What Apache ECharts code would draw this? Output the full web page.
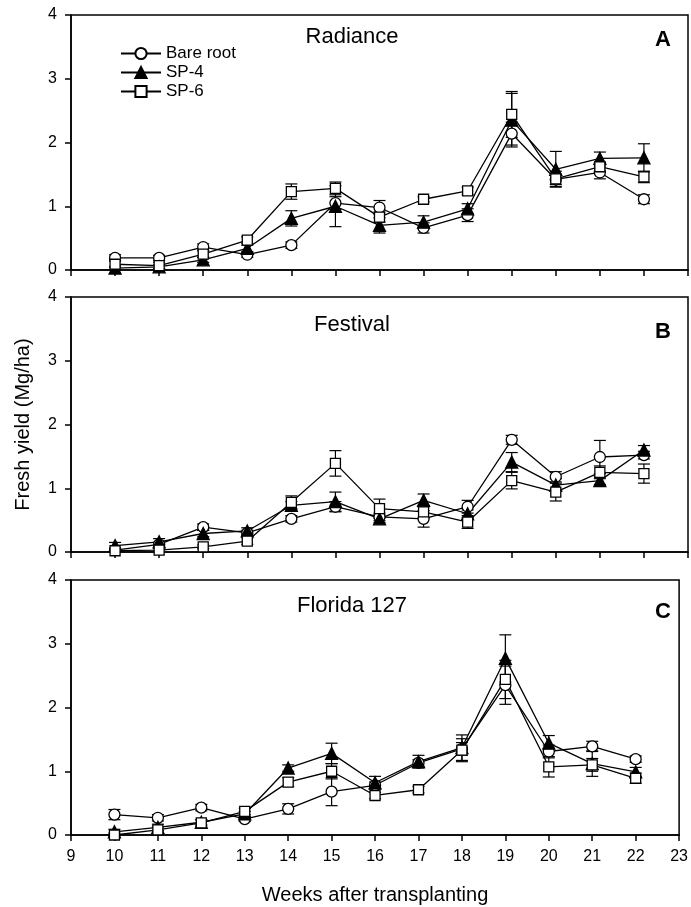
<!DOCTYPE html>
<html>
<head>
<meta charset="utf-8">
<script src="https://cdn.jsdelivr.net/npm/echarts@6/dist/echarts.min.js"></script>
<style>
  html, body { margin: 0; padding: 0; background: #fff; }
  #chart { width: 691px; height: 907px; }
</style>
</head>
<body>
<div id="chart"></div>
<script>
const weeks = [10, 11, 12, 13, 14, 15, 16, 17, 18, 19, 20, 21, 22]
const seriesNames = ['Bare root', 'SP-4', 'SP-6']
const panelTitles = ['Radiance', 'Festival', 'Florida 127']
const panelLetters = ['A', 'B', 'C']
const yTicks = [0, 1, 2, 3, 4]

// Radiance (A)
const bareA = [0.19, 0.19, 0.36, 0.24, 0.39, 1.05, 0.98, 0.66, 0.86, 2.14, 1.42, 1.53, 1.11]
const sp4A = [0.03, 0.05, 0.16, 0.34, 0.81, 1.0, 0.7, 0.75, 0.96, 2.35, 1.58, 1.75, 1.76]
const sp6A = [0.09, 0.07, 0.25, 0.47, 1.23, 1.28, 0.83, 1.11, 1.24, 2.44, 1.43, 1.62, 1.46]
const errBareA = [0.05, 0.04, 0.05, 0.04, 0.05, 0.1, 0.11, 0.08, 0.1, 0.18, 0.08, 0.1, 0.07]
const errSp4A = [0.03, 0.03, 0.04, 0.05, 0.12, 0.32, 0.12, 0.1, 0.08, 0.42, 0.28, 0.1, 0.22]
const errSp6A = [0.05, 0.05, 0.05, 0.05, 0.12, 0.1, 0.08, 0.04, 0.06, 0.36, 0.12, 0.07, 0.09]

// Festival (B)
const bareB = [0.03, 0.12, 0.39, 0.3, 0.52, 0.71, 0.55, 0.52, 0.71, 1.76, 1.18, 1.49, 1.52]
const sp4B = [0.1, 0.16, 0.29, 0.33, 0.73, 0.79, 0.52, 0.81, 0.6, 1.41, 1.05, 1.12, 1.6]
const sp6B = [0.02, 0.03, 0.08, 0.17, 0.78, 1.39, 0.68, 0.63, 0.47, 1.12, 0.94, 1.25, 1.23]
const errBareB = [0.03, 0.03, 0.05, 0.04, 0.05, 0.08, 0.06, 0.13, 0.1, 0.07, 0.08, 0.26, 0.06]
const errSp4B = [0.05, 0.05, 0.05, 0.05, 0.06, 0.15, 0.06, 0.1, 0.06, 0.15, 0.1, 0.06, 0.07]
const errSp6B = [0.02, 0.03, 0.03, 0.05, 0.1, 0.2, 0.15, 0.1, 0.1, 0.13, 0.14, 0.1, 0.15]

// Florida 127 (C)
const bareC = [0.32, 0.27, 0.43, 0.25, 0.41, 0.68, 0.78, 1.13, 1.35, 2.35, 1.31, 1.39, 1.19]
const sp4C = [0.05, 0.12, 0.2, 0.33, 1.05, 1.28, 0.82, 1.15, 1.37, 2.77, 1.44, 1.12, 0.99]
const sp6C = [0.0, 0.08, 0.19, 0.37, 0.83, 1.0, 0.62, 0.71, 1.33, 2.44, 1.07, 1.1, 0.89]
const errBareC = [0.08, 0.05, 0.05, 0.04, 0.08, 0.22, 0.05, 0.05, 0.1, 0.3, 0.1, 0.08, 0.05]
const errSp4C = [0.04, 0.05, 0.04, 0.04, 0.05, 0.16, 0.1, 0.1, 0.2, 0.37, 0.12, 0.2, 0.07]
const errSp6C = [0.03, 0.05, 0.05, 0.05, 0.07, 0.12, 0.05, 0.05, 0.18, 0.3, 0.16, 0.1, 0.08]

const panels = [
  { vals: [bareA, sp4A, sp6A], errs: [errBareA, errSp4A, errSp6A] },
  { vals: [bareB, sp4B, sp6B], errs: [errBareB, errSp4B, errSp6B] },
  { vals: [bareC, sp4C, sp6C], errs: [errBareC, errSp4C, errSp6C] }
]

const font = 'Liberation Sans, Arial, sans-serif'
const gridTops = [15, 297, 580]
const gridH = 255
const symbols = [
  { symbol: 'circle', size: 11, color: '#fff' },
  { symbol: 'triangle', size: 12, color: '#000' },
  { symbol: 'rect', size: 10, color: '#fff' }
]

function errorBars(params, api) {
  const x = api.value(0)
  const y = api.value(1)
  const e = api.value(2)
  const hi = api.coord([x, y + e])
  const lo = api.coord([x, y - e])
  const w = 6
  const style = { stroke: '#000', lineWidth: 1.2 }
  return {
    type: 'group',
    children: [
      { type: 'line', shape: { x1: hi[0], y1: hi[1], x2: lo[0], y2: lo[1] }, style },
      { type: 'line', shape: { x1: hi[0] - w, y1: hi[1], x2: hi[0] + w, y2: hi[1] }, style },
      { type: 'line', shape: { x1: lo[0] - w, y1: lo[1], x2: lo[0] + w, y2: lo[1] }, style }
    ]
  }
}

const grid = []
const xAxis = []
const yAxis = []
const series = []
const graphic = []

panels.forEach((p, i) => {
  grid.push({
    left: 71,
    width: 617,
    top: gridTops[i],
    height: gridH,
    show: true,
    borderColor: '#000',
    borderWidth: 1.5
  })
  xAxis.push({
    type: 'value',
    gridIndex: i,
    min: 9,
    max: 23,
    interval: 1,
    axisLine: { lineStyle: { color: '#000', width: 1.5 } },
    axisTick: { length: 6, lineStyle: { color: '#000', width: 1.5 } },
    axisLabel: { show: i === 2, color: '#000', fontSize: 16, fontFamily: font, margin: 14 },
    splitLine: { show: false },
    name: i === 2 ? 'Weeks after transplanting' : '',
    nameLocation: 'middle',
    nameGap: 50,
    nameTextStyle: { color: '#000', fontSize: 20, fontFamily: font }
  })
  yAxis.push({
    type: 'value',
    gridIndex: i,
    min: yTicks[0],
    max: yTicks[yTicks.length - 1],
    interval: 1,
    axisLine: { lineStyle: { color: '#000', width: 1.5 } },
    axisTick: { length: 6, lineStyle: { color: '#000', width: 1.5 } },
    axisLabel: { color: '#000', fontSize: 16, fontFamily: font, margin: 14 },
    splitLine: { show: false },
    name: i === 1 ? 'Fresh yield (Mg/ha)' : '',
    nameLocation: 'middle',
    nameRotate: 90,
    nameGap: 38,
    nameTextStyle: { color: '#000', fontSize: 20, fontFamily: font }
  })

  p.vals.forEach((vals, k) => {
    series.push({
      type: 'custom',
      xAxisIndex: i,
      yAxisIndex: i,
      z: 2,
      silent: true,
      renderItem: errorBars,
      data: weeks.map((w, j) => [w, vals[j], p.errs[k][j]])
    })
  })
  p.vals.forEach((vals, k) => {
    series.push({
      name: seriesNames[k],
      type: 'line',
      xAxisIndex: i,
      yAxisIndex: i,
      z: 3,
      symbol: symbols[k].symbol,
      symbolSize: symbols[k].size,
      showAllSymbol: true,
      lineStyle: { color: '#000', width: 1.3 },
      itemStyle: { color: symbols[k].color, borderColor: '#000', borderWidth: 1.3 },
      emphasis: { disabled: true },
      data: weeks.map((w, j) => [w, vals[j]])
    })
  })

  const titleY = [37, 325, 606][i]
  const letterY = [40, 332, 612][i]
  graphic.push({
    type: 'text',
    x: 352,
    y: titleY,
    style: { text: panelTitles[i], font: '22px ' + font, fill: '#000', textAlign: 'center', textVerticalAlign: 'middle' }
  })
  graphic.push({
    type: 'text',
    x: 663,
    y: letterY,
    style: { text: panelLetters[i], font: 'bold 22px ' + font, fill: '#000', textAlign: 'center', textVerticalAlign: 'middle' }
  })
})

const chart = echarts.init(document.getElementById('chart'))
chart.setOption({
  animation: false,
  backgroundColor: '#fff',
  grid,
  xAxis,
  yAxis,
  series,
  graphic,
  legend: {
    data: seriesNames,
    orient: 'vertical',
    left: 115,
    top: 40,
    itemWidth: 40,
    itemHeight: 14,
    itemGap: 2,
    selectedMode: false,
    textStyle: { color: '#000', fontSize: 17, fontFamily: font }
  }
})
</script>
</body>
</html>
